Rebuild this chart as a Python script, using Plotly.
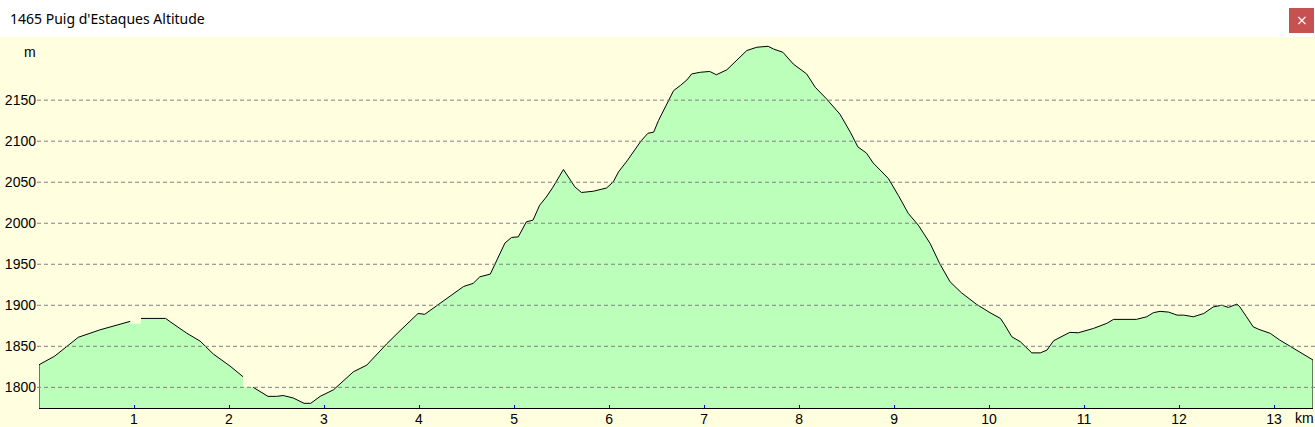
import plotly.graph_objects as go

# ---- data ----
dist_km = [0.0, 0.165, 0.414, 0.64, 0.82, 0.96, 0.97, 1.07, 1.074, 1.333, 1.38, 1.555, 1.695,
           1.835, 2.01, 2.147, 2.15, 2.25, 2.255, 2.41, 2.50, 2.57, 2.676, 2.79, 2.86, 2.96,
           3.10, 3.17, 3.31, 3.45, 3.52, 3.66, 3.80, 3.99, 4.06, 4.19, 4.29, 4.47, 4.57, 4.64,
           4.75, 4.905, 4.975, 5.045, 5.13, 5.20, 5.27, 5.34, 5.41, 5.52, 5.64, 5.71, 5.835,
           5.975, 6.045, 6.10, 6.19, 6.27, 6.34, 6.41, 6.47, 6.52, 6.61, 6.68, 6.75, 6.82,
           6.87, 6.96, 7.06, 7.13, 7.24, 7.34, 7.45, 7.555, 7.675, 7.73, 7.83, 7.94, 8.08,
           8.17, 8.29, 8.43, 8.54, 8.62, 8.71, 8.78, 8.94, 9.045, 9.15, 9.255, 9.38, 9.48,
           9.59, 9.71, 9.87, 10.01, 10.12, 10.16, 10.24, 10.33, 10.45, 10.54, 10.61, 10.68,
           10.75, 10.85, 10.94, 11.10, 11.24, 11.31, 11.55, 11.66, 11.73, 11.80, 11.89, 11.98,
           12.05, 12.15, 12.26, 12.36, 12.45, 12.52, 12.61, 12.64, 12.71, 12.78, 12.84, 12.96,
           13.06, 13.20, 13.41]
elev_m = [1827.5, 1838, 1861, 1870, 1876, 1880.4, 1877.5, 1877.5, 1884, 1884, 1880, 1866, 1856.4,
          1840.6, 1826, 1813, 1800, 1800, 1800, 1789, 1789, 1790, 1787, 1780.5, 1780.5, 1789,
          1797, 1804, 1819, 1827, 1836, 1853, 1869, 1890, 1889, 1900, 1908, 1923, 1926.7, 1934.7,
          1938, 1976, 1982.7, 1983.4, 2001.7, 2003.8, 2022, 2032, 2044, 2065.5, 2044.3, 2037.5, 2039,
          2043, 2050.5, 2062.6, 2076, 2089, 2100.8, 2109.7, 2111, 2125, 2145.4, 2161.7, 2167.8, 2174.7,
          2182, 2184, 2185, 2181, 2187, 2198, 2210.5, 2214.5, 2215.7, 2212.4, 2208.4, 2194, 2182,
          2165.8, 2151.5, 2133, 2111, 2093, 2085.5, 2073.5, 2054.6, 2034, 2012, 1997.7, 1975.4, 1951,
          1928.6, 1915.2, 1901, 1891, 1884, 1877, 1861.6, 1855.5, 1842, 1842, 1845.4, 1856.8,
          1861, 1867, 1866.5, 1871.8, 1878, 1882.8, 1882.8, 1886, 1891, 1892.6, 1891.7, 1888,
          1888, 1886, 1890, 1898, 1900, 1897.4, 1901.5, 1898, 1886, 1873.8, 1870.6, 1865.8,
          1857.6, 1847.5, 1833.3]
# stretches where the recorded track is missing (no outline drawn)
track_gaps_km = [(0.965, 1.072), (2.148, 2.252)]

y_ticks = [1800, 1850, 1900, 1950, 2000, 2050, 2100, 2150]
x_ticks = list(range(1, 14))
x_tick_labels = [str(v) for v in x_ticks]
title_text = "1465 Puig d'Estaques Altitude"
y_unit = "m"
x_unit = "km"

# ---- styling ----
BG = "#FFFFE0"
FILL = "#BBFFBB"
FONT = "Liberation Sans, Arial, sans-serif"
W, H = 1315, 427
ML, MR, MT, MB = 39, 2, 37, 19
y_range = [1774.8, 2227]
x_range = [0, max(dist_km)]

pw = W - ML - MR
ph = H - MT - MB
def px_x(p):
    return (p - ML) / pw
def px_y(p):
    return (H - MB - p) / ph

# outline: break where track is missing, close down to axis floor at both ends
line_x = [dist_km[0]]
line_y = [y_range[0]]
for d, e in zip(dist_km, elev_m):
    in_gap = any(a <= d <= b for a, b in track_gaps_km)
    line_x.append(d)
    line_y.append(None if in_gap else e)
line_x.append(dist_km[-1])
line_y.append(y_range[0])

fig = go.Figure()
fig.add_trace(go.Scatter(x=dist_km, y=elev_m, mode="lines", fill="tozeroy",
                         fillcolor=FILL, line=dict(width=0, color=FILL),
                         hoverinfo="skip", showlegend=False))
fig.add_trace(go.Scatter(x=line_x, y=line_y, mode="lines", connectgaps=False,
                         line=dict(width=1, color="black"), showlegend=False))

shapes = []
# title bar (white)
shapes.append(dict(type="rect", xref="paper", yref="paper", x0=-0.1, x1=1.1,
                   y0=px_y(MT), y1=px_y(-5), fillcolor="white", line=dict(width=0),
                   layer="below"))
# close button
shapes.append(dict(type="rect", xref="paper", yref="paper", x0=px_x(1289), x1=px_x(1314),
                   y0=px_y(33), y1=px_y(8), fillcolor="#C75050", line=dict(width=0)))
# dashed grid lines above the fill
for v in y_ticks:
    shapes.append(dict(type="line", xref="paper", yref="y", x0=px_x(37), x1=px_x(W),
                       y0=v, y1=v, line=dict(color="#808080", width=1, dash="4px,3px"),
                       layer="above"))

annotations = [
    dict(text=title_text, xref="paper", yref="paper", x=px_x(8), y=px_y(18),
         xanchor="left", yanchor="middle", showarrow=False,
         font=dict(family="Noto Sans, Open Sans, sans-serif", size=14, color="black")),
    dict(text="×", xref="paper", yref="paper", x=px_x(1301.5), y=px_y(20),
         xanchor="center", yanchor="middle", showarrow=False,
         font=dict(family="DejaVu Sans", size=14, color="white")),
    dict(text=y_unit, xref="paper", yref="paper", x=px_x(30), y=px_y(52),
         xanchor="center", yanchor="middle", showarrow=False,
         font=dict(family=FONT, size=14, color="black")),
    dict(text=x_unit, xref="paper", yref="paper", x=px_x(1304), y=px_y(418),
         xanchor="center", yanchor="middle", showarrow=False,
         font=dict(family=FONT, size=14, color="black")),
]

fig.update_layout(
    width=W, height=H,
    margin=dict(l=ML, r=MR, t=MT, b=MB, pad=0, autoexpand=False),
    paper_bgcolor=BG, plot_bgcolor=BG,
    shapes=shapes, annotations=annotations,
    font=dict(family=FONT, size=14, color="black"),
    xaxis=dict(range=x_range, tickvals=x_ticks, ticktext=x_tick_labels,
               showgrid=False, zeroline=False, showline=True, linecolor="black",
               linewidth=1, ticks="inside", ticklen=3, tickcolor="#0000FF",
               tickwidth=1, fixedrange=True, automargin=False, ticklabelstandoff=-2),
    yaxis=dict(range=y_range, tickvals=y_ticks, showgrid=False, zeroline=False,
               showline=False, ticks="", ticklabelstandoff=2, fixedrange=True,
               automargin=False),
    showlegend=False,
)

fig.write_html("out.html", config={"displayModeBar": False},
               post_script="document.body.style.margin='0';document.body.style.overflow='hidden';")
